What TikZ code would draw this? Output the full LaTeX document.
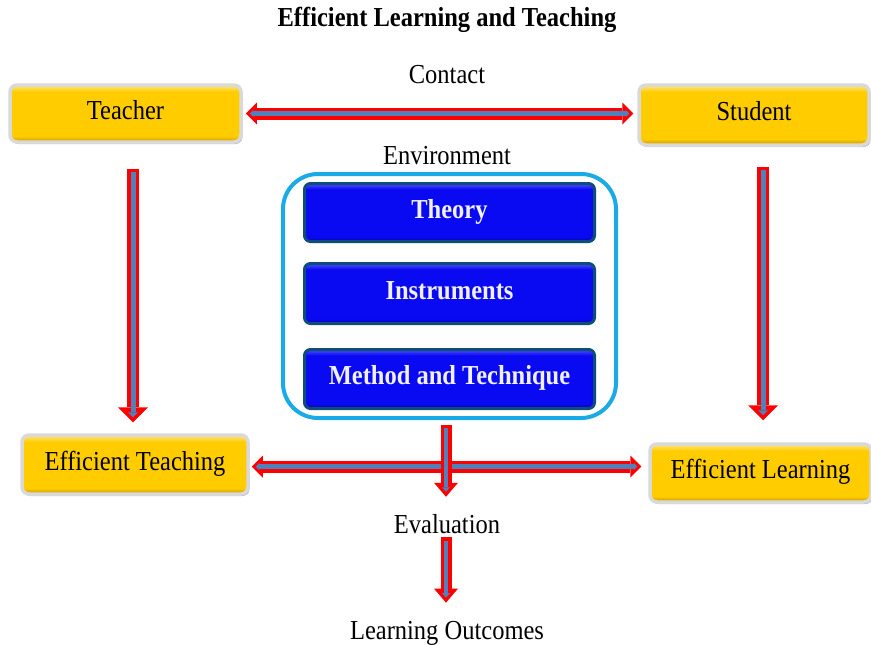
\documentclass[tikz,border=0pt]{standalone}
\usepackage{fontspec}
\setmainfont{Liberation Serif}
\usepackage{graphicx}
\usetikzlibrary{arrows.meta,shadows}
\definecolor{gold}{HTML}{FFCC00}
\definecolor{goldlight}{HTML}{FFE680}
\definecolor{golddark}{HTML}{C99700}
\definecolor{framegray}{HTML}{D9D9D9}
\definecolor{boxblue}{HTML}{0A0AF2}
\definecolor{boxbluelight}{HTML}{5050FF}
\definecolor{boxbluedark}{HTML}{0000B0}
\definecolor{boxborder}{HTML}{0E4C7A}
\definecolor{envcyan}{HTML}{1AABE6}
\definecolor{arrred}{HTML}{FF0000}
\definecolor{arrblue}{HTML}{4F81BD}
\pgfdeclareverticalshading{goldbevel}{100bp}{color(0bp)=(golddark); color(25bp)=(golddark); color(30bp)=(gold); color(69bp)=(gold); color(75bp)=(goldlight); color(100bp)=(goldlight)}
\pgfdeclareverticalshading{bluebevel}{100bp}{color(0bp)=(boxbluedark); color(25bp)=(boxbluedark); color(29bp)=(boxblue); color(70bp)=(boxblue); color(75bp)=(boxbluelight); color(100bp)=(boxbluelight)}
\newcommand\vs[1]{\scalebox{1}[1.12]{#1}}
\tikzset{
  basefont/.style={font=\fontsize{24.5}{29}\selectfont},
  ybox/.style={basefont, rounded corners=7pt, draw=framegray, line width=3.5pt,
    shade, shading=goldbevel,
    drop shadow={shadow xshift=1.5pt, shadow yshift=-2pt, opacity=.45, fill=black!60},
    text height=17pt, text depth=6pt, inner sep=0pt},
  bbox/.style={font={\fontsize{24.5}{29}\selectfont\bfseries}, text=white!94!blue,
    rounded corners=6pt, draw=boxborder, line width=3pt,
    shade, shading=bluebevel,
    text height=17pt, text depth=6pt, inner sep=0pt},
  envbox/.style={draw=envcyan, line width=4pt, rounded corners=35pt},
  lbl/.style={basefont, inner sep=0pt, anchor=base},
  redv/.style 2 args={draw=arrred, line width=12pt, shorten <=#1, shorten >=#2,
    -{Triangle[width=30pt,length=15pt,line width=0pt]}},
  bluev/.style 2 args={draw=arrblue, line width=5pt, shorten <=#1+3.5pt, shorten >=#2+5pt,
    -{Triangle[width=10pt,length=5pt,line width=0pt]}},
  redc/.style 2 args={draw=arrred, line width=11pt, shorten <=#1, shorten >=#2,
    -{Triangle[width=24pt,length=14pt,line width=0pt]}},
  bluec/.style 2 args={draw=arrblue, line width=4.5pt, shorten <=#1+3.3pt, shorten >=#2+5pt,
    -{Triangle[width=8pt,length=4.5pt,line width=0pt]}},
  redh/.style 2 args={draw=arrred, line width=12pt, shorten <=#1, shorten >=#2,
    {Triangle[width=22pt,length=11pt,line width=0pt]}-{Triangle[width=22pt,length=11pt,line width=0pt]}},
  blueh/.style 2 args={draw=arrblue, line width=4.5pt, shorten <=#1+4pt, shorten >=#2+4pt,
    {Triangle[width=7pt,length=3.5pt,line width=0pt]}-{Triangle[width=7pt,length=3.5pt,line width=0pt]}},
}
\newcommand\varrow[4]{\draw[redv={#3}{#4}] #1 -- #2; \draw[bluev={#3}{#4}] #1 -- #2;}
\newcommand\carrow[4]{\draw[redc={#3}{#4}] #1 -- #2; \draw[bluec={#3}{#4}] #1 -- #2;}
\newcommand\harrow[4]{\draw[redh={#3}{#4}] #1 -- #2; \draw[blueh={#3}{#4}] #1 -- #2;}
\begin{document}
\begin{tikzpicture}[x=1pt,y=-1pt]
\useasboundingbox[fill=white] (0,0) rectangle (871,645);

% title and labels
\node[lbl, font={\fontsize{24.5}{29}\selectfont\bfseries}] (title) at (447,27) {\vs{Efficient Learning and Teaching}};
\node[lbl] (contact) at (447,83) {\vs{Contact}};
\node[lbl] (environment) at (447,164) {\vs{Environment}};
\node[lbl] (evaluation) at (447,533) {\vs{Evaluation}};
\node[lbl] (outcomes) at (447,639) {\vs{Learning Outcomes}};

% yellow boxes
\node[ybox, minimum width=231, minimum height=57] (teacher) at (125.5,113.5) {\vs{Teacher}};
\node[ybox, minimum width=230, minimum height=60] (student) at (754,115) {\vs{Student}};
\node[ybox, minimum width=226, minimum height=59] (effteach) at (135,464.5) {\vs{Efficient Teaching}};
\node[ybox, minimum width=221, minimum height=58] (efflearn) at (760.5,473) {\vs{Efficient Learning}};

% environment
\node[envbox, minimum width=333, minimum height=244] (env) at (449.5,296) {};
\node[bbox, minimum width=290, minimum height=58] (theory) at (449.5,212.5) {\vs{Theory}};
\node[bbox, minimum width=290, minimum height=60] (instruments) at (449.5,293.5) {\vs{Instruments}};
\node[bbox, minimum width=290, minimum height=59] (method) at (449.5,379) {\vs{Method and Technique}};

% connectors
\harrow{(teacher.east)}{(teacher.east -| student.west)}{3pt}{4pt}
\harrow{([yshift=-2pt]effteach.east)}{([yshift=-2pt]effteach.east -| efflearn.west)}{2pt}{7pt}
\varrow{([xshift=7.5pt]teacher.south)}{([xshift=-2pt]effteach.north)}{25pt}{11pt}
\varrow{([xshift=9pt]student.south)}{([xshift=2.5pt]efflearn.north)}{20pt}{22pt}
\carrow{([xshift=-3.5pt]env.south)}{([xshift=-1pt]evaluation.north)}{5pt}{17pt}
\carrow{([xshift=-1pt]evaluation.south)}{([xshift=-1pt]outcomes.north)}{4pt}{18pt}
\end{tikzpicture}
\end{document}
